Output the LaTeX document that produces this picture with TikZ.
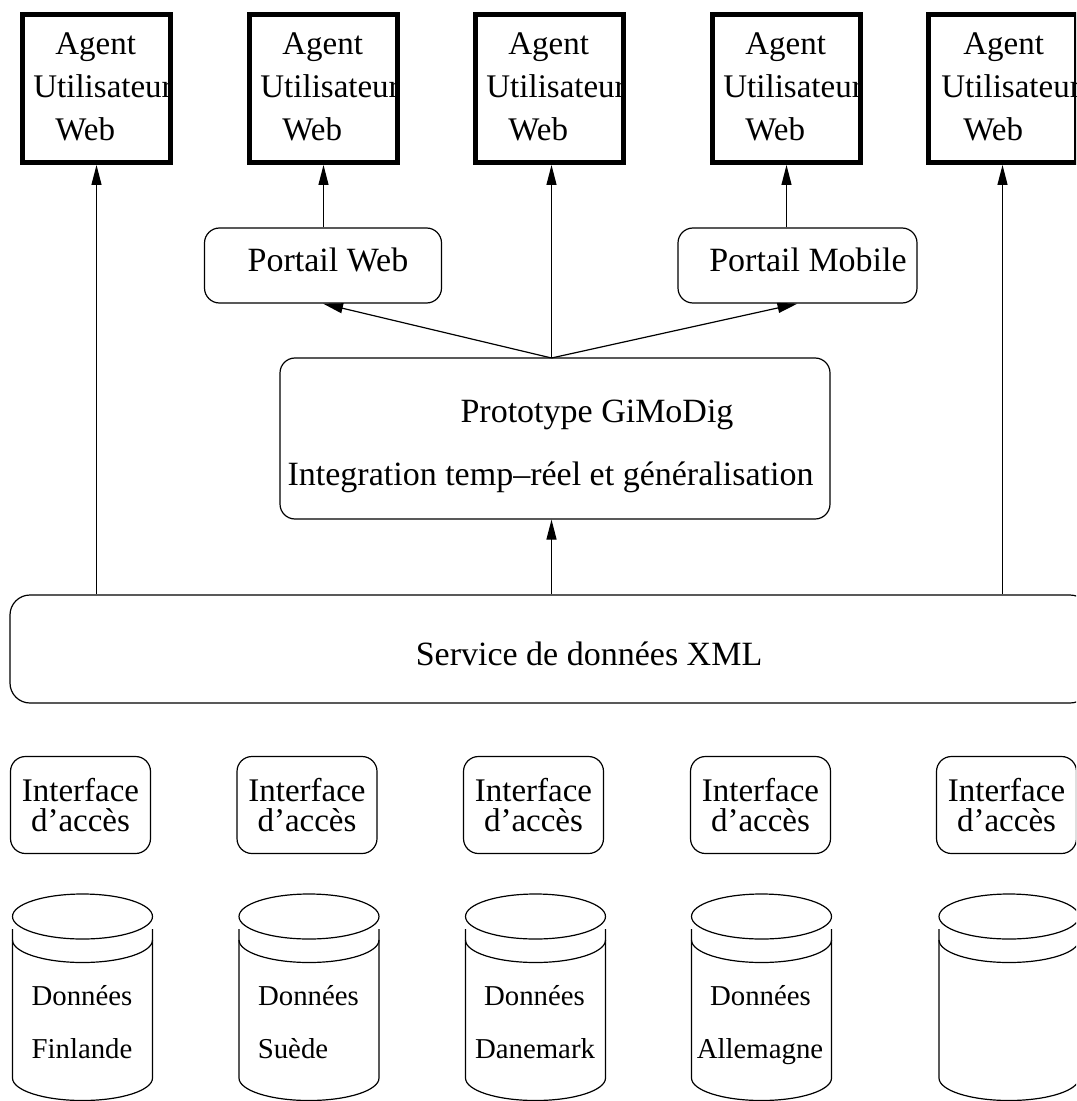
\documentclass[tikz,border=0pt]{standalone}
\usepackage{fontspec}
\setmainfont{Liberation Serif}
\usetikzlibrary{arrows.meta}

\tikzset{
	agent/.style={draw, line width=2.5pt, minimum width=74pt, minimum height=74pt, inner sep=0pt},
	rbox/.style={draw, line width=0.6pt, rounded corners=7.5pt, inner sep=0pt},
	txt/.style={inner sep=0pt, anchor=base, font=\fontsize{17}{20}\selectfont},
	agenttxt/.style={inner sep=0pt, anchor=base west, align=left, font=\fontsize{16.5}{21.5}\selectfont},
	dbtxt/.style={inner sep=0pt, anchor=base, font=\fontsize{14.4}{17}\selectfont},
	arr/.style={line width=0.6pt, -{Triangle[length=10pt, width=5pt]}},
	cyl/.style={line width=0.6pt}
}

\begin{document}
\begin{tikzpicture}[x=0.5pt, y=-0.5pt]

	\useasboundingbox (0,0) rectangle (1076,1101);
	\clip (0,0) rectangle (1076,1101);

	% agents
	\node[agent] (a1) at (96.5, 88.5) {};
	\node[agent] (a2) at (323.5, 88.5) {};
	\node[agent] (a3) at (549.5, 88.5) {};
	\node[agent] (a4) at (786.5, 88.5) {};
	\node[agent] (a5) at (1002.5, 88.5) {};

	\node[agenttxt] (a1t) at (33, 141) {\hspace{11pt}Agent\\Utilisateur\\\hspace{11pt}Web};
	\node[agenttxt] (a2t) at (260, 141) {\hspace{11pt}Agent\\Utilisateur\\\hspace{11pt}Web};
	\node[agenttxt] (a3t) at (486, 141) {\hspace{11pt}Agent\\Utilisateur\\\hspace{11pt}Web};
	\node[agenttxt] (a4t) at (723, 141) {\hspace{11pt}Agent\\Utilisateur\\\hspace{11pt}Web};
	\node[agenttxt] (a5t) at (941, 141) {\hspace{11pt}Agent\\Utilisateur\\\hspace{11pt}Web};

	% portails
	\node[rbox, minimum width=118.5pt, minimum height=37.5pt] (pweb) at (323, 265.5) {};
	\node[rbox, minimum width=119.5pt, minimum height=37.5pt] (pmob) at (797.5, 265.5) {};
	\node[txt] (pwebt) at (328, 272) {Portail Web};
	\node[txt] (pmobt) at (808, 272) {Portail Mobile};

	% prototype
	\node[rbox, minimum width=275pt, minimum height=80.5pt] (proto) at (555, 438.5) {};
	\node[txt] (protoa) at (597, 422) {Prototype GiMoDig};
	\node[txt] (protob) at (550.5, 485) {Integration temp–réel et généralisation};
	\coordinate (fork) at (551.5, 358);

	% service
	\node[rbox, rounded corners=10pt, minimum width=540pt, minimum height=54pt] (serv) at (550, 649) {};
	\node[txt] (servt) at (589, 665) {Service de données XML};

	% interfaces
	\node[rbox, minimum width=70pt, minimum height=48.5pt, align=center, font=\fontsize{16.5}{15}\selectfont] (i1) at (80.5, 805) {Interface\\d’accès};
	\node[rbox, minimum width=70pt, minimum height=48.5pt, align=center, font=\fontsize{16.5}{15}\selectfont] (i2) at (307, 805) {Interface\\d’accès};
	\node[rbox, minimum width=70pt, minimum height=48.5pt, align=center, font=\fontsize{16.5}{15}\selectfont] (i3) at (533.5, 805) {Interface\\d’accès};
	\node[rbox, minimum width=70pt, minimum height=48.5pt, align=center, font=\fontsize{16.5}{15}\selectfont] (i4) at (760.5, 805) {Interface\\d’accès};
	\node[rbox, minimum width=70pt, minimum height=48.5pt, align=center, font=\fontsize{16.5}{15}\selectfont] (i5) at (1006.5, 805) {Interface\\d’accès};

	% arrows
	\draw[arr] (a1 |- serv.north) -- (a1.south);
	\draw[arr] (a2 |- pweb.north) -- (a2.south);
	\draw[arr] (fork) -- (fork |- a3.south);
	\draw[arr] (a4 |- pmob.north) -- (a4.south);
	\draw[arr] (a5 |- serv.north) -- (a5.south);
	\draw[arr] (fork) -- (pweb.south);
	\draw[arr] (fork) -- (pmob.south);
	\draw[arr] (fork |- serv.north) -- (fork |- proto.south);

	% bases de donnees
	\draw[cyl] (82.5, 916.5) ellipse [x radius=70, y radius=22.5] (12.5, 929) -- (12.5, 1078) arc [start angle=180, end angle=0, x radius=70, y radius=22.5] -- (152.5, 929);
	\draw[cyl] (12.5, 940) arc [start angle=180, end angle=0, x radius=70, y radius=22.5];
	\draw[cyl] (309, 916.5) ellipse [x radius=70, y radius=22.5] (239, 929) -- (239, 1078) arc [start angle=180, end angle=0, x radius=70, y radius=22.5] -- (379, 929);
	\draw[cyl] (239, 940) arc [start angle=180, end angle=0, x radius=70, y radius=22.5];
	\draw[cyl] (535.5, 916.5) ellipse [x radius=70, y radius=22.5] (465.5, 929) -- (465.5, 1078) arc [start angle=180, end angle=0, x radius=70, y radius=22.5] -- (605.5, 929);
	\draw[cyl] (465.5, 940) arc [start angle=180, end angle=0, x radius=70, y radius=22.5];
	\draw[cyl] (761.5, 916.5) ellipse [x radius=70, y radius=22.5] (691.5, 929) -- (691.5, 1078) arc [start angle=180, end angle=0, x radius=70, y radius=22.5] -- (831.5, 929);
	\draw[cyl] (691.5, 940) arc [start angle=180, end angle=0, x radius=70, y radius=22.5];
	\draw[cyl] (1009, 916.5) ellipse [x radius=70, y radius=22.5] (939, 929) -- (939, 1078) arc [start angle=180, end angle=0, x radius=70, y radius=22.5] -- (1079, 929);
	\draw[cyl] (939, 940) arc [start angle=180, end angle=0, x radius=70, y radius=22.5];

	\node[dbtxt] (d1a) at (82, 1005) {Données};
	\node[dbtxt] (d1b) at (82, 1058) {Finlande};
	\node[dbtxt] (d2a) at (308.5, 1005) {Données};
	\node[dbtxt] (d2b) at (293, 1058) {Suède};
	\node[dbtxt] (d3a) at (534.5, 1005) {Données};
	\node[dbtxt] (d3b) at (535, 1058) {Danemark};
	\node[dbtxt] (d4a) at (760.5, 1005) {Données};
	\node[dbtxt] (d4b) at (760, 1058) {Allemagne};

\end{tikzpicture}
\end{document}
